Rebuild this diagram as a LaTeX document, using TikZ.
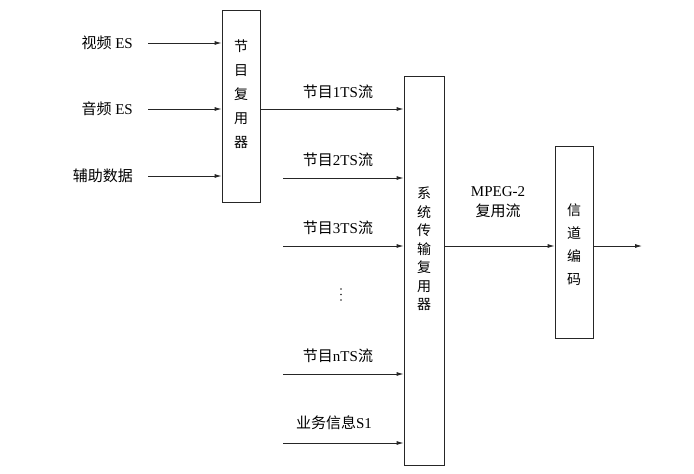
\documentclass[tikz,border=0pt]{standalone}
\usepackage{fontspec}
\setmainfont{Liberation Serif}
\newfontfamily\cjk{Noto Sans CJK SC}
\usetikzlibrary{arrows.meta}
\begin{document}
\begin{tikzpicture}[x=1pt,y=1pt,
  box/.style={draw=black!85,line width=0.8pt,minimum width=38pt,inner sep=0pt},
  arr/.style={draw=black!85,line width=0.8pt,-{Latex[length=7pt,width=4pt]}},
  lbl/.style={inner sep=0pt,font=\fontsize{15}{20}\selectfont},
  vtxt/.style={inner sep=0pt,align=center,font=\cjk\fontsize{14}{24}\selectfont}]
\useasboundingbox (0,0) rectangle (694,-474);
% boxes
\node[box,minimum height=192pt] (b1) at (241,-106) {};
\node[box,minimum width=40pt,minimum height=389pt] (b2) at (424,-270.5) {};
\node[box,minimum height=192pt] (b3) at (574,-242) {};
\node[vtxt] (b1t) at (241,-94) {节\\目\\复\\用\\器};
\node[vtxt,font=\cjk\fontsize{14}{18.5}\selectfont] (b2t) at (424,-249) {系\\统\\传\\输\\复\\用\\器};
\node[vtxt,font=\cjk\fontsize{14}{23}\selectfont] (b3t) at (574,-245) {信\\道\\编\\码};
% input coordinates
\coordinate (i1) at (148,-43);
\coordinate (i2) at (148,-109);
\coordinate (i3) at (148,-176);
\coordinate (s2) at (283,-178);
\coordinate (s3) at (283,-246);
\coordinate (sn) at (283,-374);
\coordinate (ss) at (283,-443);
\coordinate (out) at (642,-246);
% input labels
\node[lbl,anchor=east] (l1) at (133,-43) {{\cjk 视频} ES};
\node[lbl,anchor=east] (l2) at (133,-109) {{\cjk 音频} ES};
\node[lbl,anchor=east] (l3) at (133,-176) {\cjk 辅助数据};
% input arrows
\draw[arr] (i1) -- (i1 -| b1.west);
\draw[arr] (i2) -- (i2 -| b1.west);
\draw[arr] (i3) -- (i3 -| b1.west);
% program stream arrows
\draw[arr] (b1.east |- i2) -- (b2.west |- i2);
\draw[arr] (s2) -- (s2 -| b2.west);
\draw[arr] (s3) -- (s3 -| b2.west);
\draw[arr] (sn) -- (sn -| b2.west);
\draw[arr] (ss) -- (ss -| b2.west);
\node[lbl] (t1) at (338,-92) {{\cjk 节目}1TS{\cjk 流}};
\node[lbl] (t2) at (338,-160) {{\cjk 节目}2TS{\cjk 流}};
\node[lbl] (t3) at (338,-228) {{\cjk 节目}3TS{\cjk 流}};
\foreach \yy in {-289,-294.5,-300} \fill[black!85] (341,\yy) circle (0.9pt);
\node[lbl] (tn) at (338,-356) {{\cjk 节目}nTS{\cjk 流}};
\node[lbl] (ts) at (334,-423) {{\cjk 业务信息}S1};
% multiplex output
\draw[arr] (b2.east |- out) -- (b3.west |- out);
\node[lbl,align=center] (mp) at (498,-202) {MPEG-2\\{\cjk 复用流}};
\draw[arr] (b3.east |- out) -- (out);
\end{tikzpicture}
\end{document}
